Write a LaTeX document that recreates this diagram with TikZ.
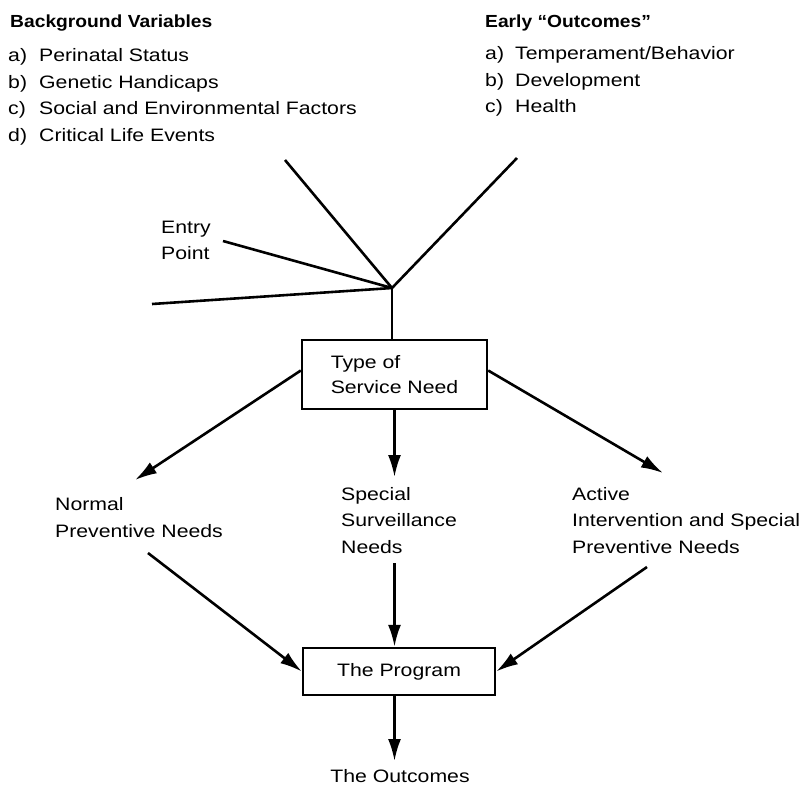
\documentclass[tikz,border=0pt]{standalone}
\usepackage{fontspec}
\setmainfont[FakeStretch=1.18]{Liberation Sans}
\newfontfamily\titlefont[FakeStretch=1.1]{Liberation Sans}
\usetikzlibrary{arrows.meta,calc}
\newcommand\itemlab[2]{\makebox[#1][l]{#2}}
\begin{document}
\begin{tikzpicture}[x=1pt,y=-1pt,
  txt/.style={inner sep=0pt,anchor=west,align=left,font=\fontsize{18}{26.5}\selectfont},
  ttl/.style={inner sep=0pt,anchor=west,font=\titlefont\bfseries\fontsize{17.5}{21}\selectfont},
  boxn/.style={draw,line width=2.4pt,inner sep=0pt,align=left,font=\fontsize{18}{25}\selectfont},
  ln/.style={line width=2.6pt},
  arr/.style={line width=2.6pt,-{Latex[length=22pt,width=13pt]}}]
\useasboundingbox[fill=white] (0,0) rectangle (807,788);

% top texts
\node[ttl] (bgt) at (10,23) {Background Variables};
\node[txt] (bgl) at (8,97) {\itemlab{31pt}{a)}Perinatal Status\\
  \itemlab{31pt}{b)}Genetic Handicaps\\
  \itemlab{31pt}{c)}Social and Environmental Factors\\
  \itemlab{31pt}{d)}Critical Life Events};
\node[ttl] (eot) at (485,23) {Early “Outcomes”};
\node[txt] (eol) at (485,81.5) {\itemlab{30pt}{a)}Temperament/Behavior\\
  \itemlab{30pt}{b)}Development\\
  \itemlab{30pt}{c)}Health};
\node[txt] (entry) at (161,240.5) {Entry\\Point};

% fan of lines
\coordinate (J) at (392,288);
\coordinate (A) at (285,160);
\coordinate (B) at (517,158);
\coordinate (E) at (223,241);
\coordinate (L) at (152,304);

% boxes
\node[boxn,minimum width=185pt,minimum height=69pt] (box1) at (394.5,374.5) {Type of\\Service Need};
\node[boxn,minimum width=192pt,minimum height=47pt] (box2) at (399,671.5) {The Program};

\draw[ln] (A) -- (J) -- (B);
\draw[ln] (E) -- (J);
\draw[ln] (L) -- (J);
\draw[ln] (J) -- (J |- box1.north);

% needs
\node[txt] (normal) at (55,517.5) {Normal\\Preventive Needs};
\node[txt] (special) at (341,520.5) {Special\\Surveillance\\Needs};
\node[txt] (active) at (572,520.5) {Active\\Intervention and Special\\Preventive Needs};
\node[inner sep=0pt,font=\fontsize{18}{22}\selectfont] (outc) at (400,776) {The Outcomes};

\coordinate (t1) at (135,480);
\coordinate (t2) at (394.5,477);
\coordinate (t3) at (663,473);
\coordinate (s1) at (148,553);
\coordinate (s2) at (394.5,563);
\coordinate (s3) at (647,567);
\coordinate (t4) at (394.5,761);

\draw[arr] ([yshift=4pt]box1.west) -- (t1);
\draw[arr] (box1.south) -- (t2);
\draw[arr] ([yshift=4pt]box1.east) -- (t3);
\draw[arr] (s1) -- (box2.west);
\draw[arr] (s2) -- (s2 |- box2.north);
\draw[arr] (s3) -- (box2.east);
\draw[arr] (box2.south -| s2) -- (t4);
\end{tikzpicture}
\end{document}
